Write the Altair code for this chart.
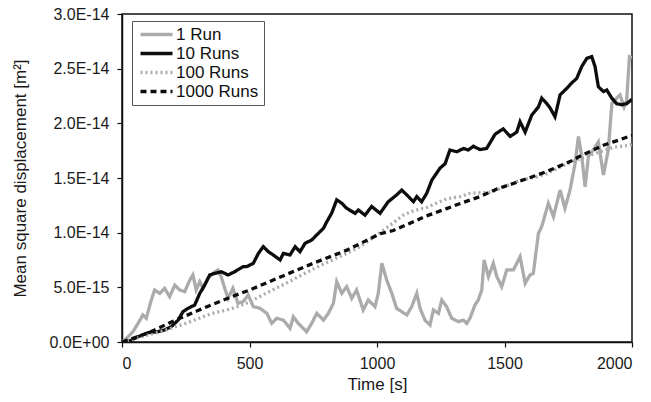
import altair as alt
import pandas as pd

SERIES = ["1 Run", "10 Runs", "100 Runs", "1000 Runs"]
X_TICKS = [0, 500, 1000, 1500, 2000]
Y_TICKS = [0, 5, 10, 15, 20, 25, 30]  # units of 1e-15 m^2

# (time [s], mean square displacement [1e-15 m^2])
RUN_1 = [(0, 0), (24, 0.48), (43, 0.94), (63, 1.71), (82, 2.47), (95, 2.17), (115, 3.84),
         (128, 4.76), (148, 4.45), (167, 4.91), (187, 4.14), (207, 5.2), (226, 4.76),
         (246, 4.6), (266, 5.67), (278, 6.13), (291, 4.76), (305, 5.52), (318, 4.91),
         (337, 5.83), (357, 6.28), (376, 6.59), (389, 5.97), (403, 4.91), (416, 4.0),
         (435, 4.91), (455, 3.54), (475, 3.69), (495, 4.3), (515, 3.23), (541, 3.08),
         (568, 2.62), (587, 1.71), (607, 2.17), (633, 2.0), (659, 1.25), (672, 2.31),
         (691, 1.71), (724, 0.94), (744, 1.71), (764, 2.62), (790, 2.0), (809, 2.62),
         (829, 3.54), (842, 5.52), (862, 4.45), (881, 5.06), (901, 4.0), (920, 4.76),
         (946, 2.93), (966, 3.84), (992, 3.23), (1005, 4.45), (1019, 7.2), (1038, 5.67),
         (1058, 4.45), (1077, 3.08), (1097, 2.77), (1117, 2.47), (1136, 3.23), (1156, 4.45),
         (1169, 3.08), (1188, 2.0), (1208, 1.55), (1221, 2.93), (1241, 2.62), (1254, 3.84),
         (1273, 3.23), (1293, 2.17), (1319, 1.86), (1339, 2.0), (1352, 1.71), (1365, 2.2),
         (1384, 3.38), (1397, 3.84), (1411, 4.76), (1420, 7.5), (1437, 5.97), (1456, 7.2),
         (1470, 5.97), (1489, 5.06), (1509, 6.59), (1535, 6.59), (1561, 7.8), (1581, 5.37),
         (1600, 6.13), (1613, 6.28), (1633, 9.94), (1646, 10.55), (1672, 12.69),
         (1692, 11.46), (1718, 13.9), (1737, 12.23), (1757, 13.9), (1777, 16.35),
         (1790, 18.8), (1803, 16.95), (1816, 14.2), (1829, 16.95), (1848, 17.56),
         (1868, 18.3), (1888, 15.27), (1907, 17.56), (1921, 21.8), (1940, 22.3),
         (1953, 22.6), (1969, 21.5), (1979, 22.1), (1990, 26.1), (2000, 26.0)]

RUN_10 = [(0, 0), (24, 0.03), (63, 0.48), (102, 0.85), (141, 0.94), (167, 1.1), (193, 1.4),
          (220, 2.0), (239, 2.77), (259, 3.08), (285, 3.38), (305, 4.45), (324, 5.2),
          (344, 6.13), (364, 6.28), (389, 6.43), (416, 6.13), (442, 6.43), (475, 6.89),
          (489, 6.89), (515, 7.2), (535, 8.11), (554, 8.72), (574, 8.26), (593, 7.96),
          (620, 7.5), (633, 8.11), (659, 7.96), (679, 8.72), (698, 8.26), (718, 9.03),
          (744, 9.33), (770, 9.94), (790, 10.4), (803, 11.0), (822, 11.77), (842, 13.0),
          (862, 12.69), (881, 12.23), (914, 11.77), (927, 12.07), (953, 11.6), (979, 12.4),
          (1012, 11.77), (1044, 12.83), (1077, 13.45), (1097, 13.9), (1117, 13.45),
          (1143, 12.83), (1156, 13.3), (1175, 12.83), (1195, 13.6), (1215, 14.8),
          (1247, 15.9), (1267, 16.3), (1286, 17.56), (1313, 17.4), (1339, 17.7),
          (1358, 17.56), (1378, 17.9), (1404, 17.6), (1430, 17.7), (1463, 19.0),
          (1495, 19.5), (1522, 18.8), (1548, 19.2), (1561, 20.15), (1581, 19.2),
          (1607, 20.76), (1633, 21.5), (1646, 22.3), (1666, 21.8), (1679, 21.4),
          (1698, 20.6), (1718, 22.6), (1744, 23.2), (1764, 23.7), (1783, 24.1),
          (1803, 25.2), (1823, 25.95), (1842, 26.1), (1855, 25.2), (1868, 23.35),
          (1888, 22.9), (1901, 23.05), (1921, 22.3), (1940, 21.8), (1960, 21.7),
          (1979, 21.8), (2000, 22.2)]

RUN_100 = [(0, 0), (80, 0.5), (160, 1.0), (250, 1.7), (350, 2.6), (424, 3.0), (494, 3.6),
           (560, 4.4), (646, 5.4), (760, 6.8), (881, 8.1), (933, 8.7), (1012, 10.0),
           (1064, 10.9), (1103, 11.6), (1143, 12.0), (1195, 12.3), (1273, 13.1),
           (1326, 13.3), (1365, 13.6), (1443, 13.7), (1470, 13.9), (1561, 14.8),
           (1626, 15.1), (1666, 15.4), (1744, 16.3), (1800, 16.8), (1862, 17.3),
           (1927, 17.8), (1992, 18.0), (2000, 18.1)]

RUN_1000 = [(0, 0), (100, 0.8), (200, 1.9), (300, 2.9), (425, 4.1), (500, 4.75),
            (647, 6.2), (750, 7.2), (882, 8.4), (1012, 9.9), (1064, 10.2), (1143, 11.0),
            (1190, 11.5), (1273, 12.2), (1318, 12.6), (1404, 13.3), (1470, 14.0),
            (1535, 14.5), (1620, 15.2), (1666, 15.6), (1757, 16.5), (1796, 17.0),
            (1888, 18.0), (1927, 18.3), (2000, 18.9)]

rows = []
for name, pts in zip(SERIES, [RUN_1, RUN_10, RUN_100, RUN_1000]):
    for t, v in pts:
        rows.append({"series": name, "t": t, "msd": v})
df = pd.DataFrame(rows)

FONT = "Liberation Sans"

legend = alt.Legend(
    title=None, orient="none", legendX=10, legendY=7,
    symbolType="M-1,0H5.4", symbolSize=100, labelFontSize=17, labelFont=FONT,
    labelColor="#111111", strokeColor="#555555", padding=5, rowPadding=1,
    labelOffset=22, fillColor="white",
)

chart = alt.Chart(df).mark_line(clip=True).encode(
    x=alt.X("t:Q", scale=alt.Scale(domain=[0, 2000], nice=False),
            axis=alt.Axis(values=X_TICKS, title="Time [s]", grid=False, format="d",
                          titleX=255, titleY=42, titleBaseline="middle")),
    y=alt.Y("msd:Q", scale=alt.Scale(domain=[0, 30], nice=False),
            axis=alt.Axis(values=Y_TICKS, title="Mean square displacement [m²]", grid=False,
                          labelExpr="datum.value == 0 ? '0.0E+00' : upper(format(datum.value * 1e-15, '.1e'))",
                          titleX=-102, titleY=164, titleAngle=270, titleAlign="center",
                          titleBaseline="middle")),
    color=alt.Color("series:N", scale=alt.Scale(domain=SERIES,
                    range=["#ababab", "#0d0d0d", "#ababab", "#0d0d0d"]), legend=legend),
    strokeDash=alt.StrokeDash("series:N", scale=alt.Scale(domain=SERIES,
                              range=[[1, 0], [1, 0], [2, 3], [6, 4]]), legend=legend),
    strokeWidth=alt.StrokeWidth("series:N", scale=alt.Scale(domain=SERIES,
                                range=[3.3, 3.3, 1.3, 1.6]), legend=legend),
    detail="series:N",
).properties(
    width=510, height=328,
    padding={"left": 122, "top": 14, "right": 19, "bottom": 60},
    autosize=alt.AutoSizeParams(type="none"),
    background="white",
).configure_view(
    stroke="#111111", strokeWidth=1.5,
).configure_axis(
    labelFont=FONT, titleFont=FONT, labelFontSize=16, titleFontSize=17,
    labelColor="#1a1a1a", titleColor="#1a1a1a", titleFontWeight="normal",
    domainColor="#111111", domainWidth=1.5, tickColor="#111111", tickWidth=1.2,
    tickSize=5, labelPadding=8,
)

chart.save("out.html", embed_options={"renderer": "svg", "actions": False})
